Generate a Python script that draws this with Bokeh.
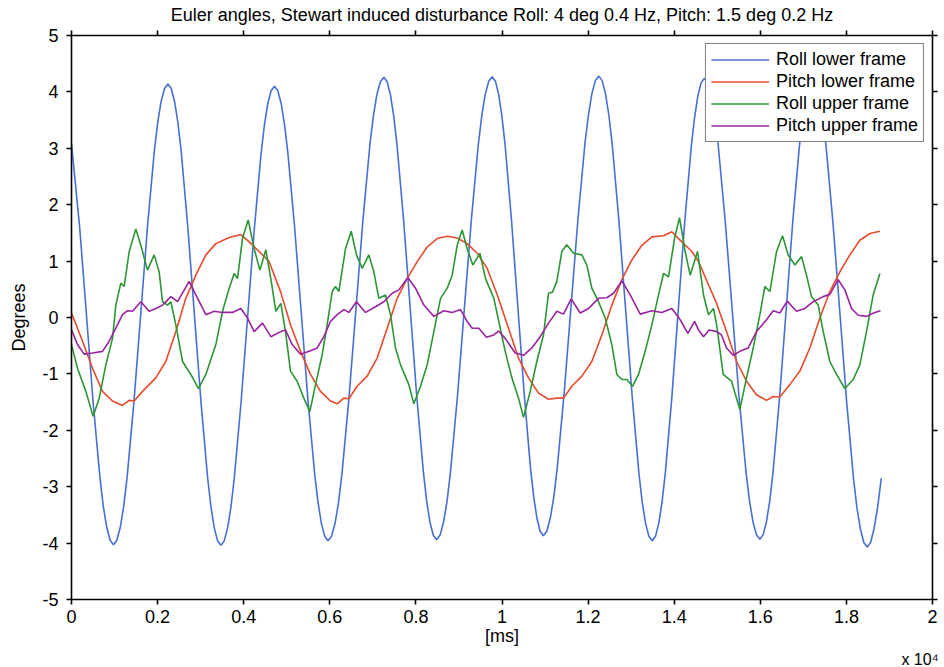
from bokeh.plotting import figure
from bokeh.models import Range1d, FixedTicker, LinearAxis, Legend, LegendItem, Title
from bokeh.embed import file_html
from bokeh.resources import INLINE

TITLE = "Euler angles, Stewart induced disturbance Roll: 4 deg 0.4 Hz, Pitch: 1.5 deg 0.2 Hz"
SERIES = ["Roll lower frame", "Pitch lower frame", "Roll upper frame", "Pitch upper frame"]

# time in ms (axis shows units of 10^4 ms)
x_ticks = [0, 2000, 4000, 6000, 8000, 10000, 12000, 14000, 16000, 18000, 20000]
x_tick_labels = ["0", "0.2", "0.4", "0.6", "0.8", "1", "1.2", "1.4", "1.6", "1.8", "2"]
y_ticks = [-5, -4, -3, -2, -1, 0, 1, 2, 3, 4, 5]

# Roll lower frame: (ms, deg) points
roll_lower = [
    (0, 3.08), (191, 1.59), (348, 0.04), (504, -1.52), (661, -2.84), (739, -3.35), (818, -3.72),
    (897, -3.95), (975, -4.03), (1054, -3.95), (1133, -3.72), (1212, -3.35), (1291, -2.84),
    (1449, -1.51), (1608, 0.06), (1766, 1.62), (1924, 2.95),
    (2003, 3.46), (2082, 3.83), (2161, 4.06), (2240, 4.14), (2317, 4.06), (2394, 3.83), (2471, 3.46),
    (2548, 2.95), (2701, 1.61), (2855, 0.05), (3009, -1.51), (3163, -2.85),
    (3240, -3.36), (3316, -3.73), (3393, -3.96), (3470, -4.04), (3548, -3.96), (3626, -3.73),
    (3704, -3.36), (3781, -2.85), (3937, -1.52), (4093, 0.03), (4248, 1.58), (4404, 2.91),
    (4482, 3.42), (4559, 3.79), (4637, 4.02), (4715, 4.10), (4793, 4.02), (4871, 3.79), (4949, 3.42),
    (5026, 2.92), (5182, 1.61), (5338, 0.07), (5493, -1.47), (5649, -2.78),
    (5727, -3.28), (5804, -3.65), (5882, -3.88), (5960, -3.96), (6041, -3.88), (6122, -3.65),
    (6203, -3.28), (6284, -2.76), (6446, -1.42), (6608, 0.15), (6769, 1.72), (6931, 3.06),
    (7012, 3.57), (7093, 3.95), (7174, 4.18), (7255, 4.26), (7332, 4.18), (7408, 3.95), (7485, 3.57),
    (7561, 3.06), (7714, 1.73), (7868, 0.16), (8021, -1.41), (8174, -2.74),
    (8251, -3.26), (8327, -3.63), (8404, -3.86), (8480, -3.94), (8561, -3.86), (8642, -3.63),
    (8723, -3.26), (8803, -2.74), (8965, -1.40), (9127, 0.17), (9288, 1.73), (9450, 3.07),
    (9531, 3.58), (9611, 3.96), (9692, 4.19), (9773, 4.27), (9847, 4.19), (9921, 3.96), (9996, 3.58),
    (10070, 3.08), (10218, 1.75), (10367, 0.20), (10515, -1.35), (10663, -2.68),
    (10738, -3.19), (10812, -3.56), (10886, -3.79), (10960, -3.87), (11041, -3.79), (11121, -3.56),
    (11202, -3.19), (11282, -2.68), (11443, -1.35), (11605, 0.21), (11766, 1.76), (11927, 3.09),
    (12008, 3.59), (12088, 3.97), (12169, 4.20), (12249, 4.28), (12327, 4.20), (12404, 3.97),
    (12482, 3.59), (12559, 3.08), (12714, 1.73), (12870, 0.16), (13025, -1.41), (13180, -2.76),
    (13258, -3.28), (13335, -3.65), (13413, -3.88), (13490, -3.96), (13566, -3.88), (13641, -3.65),
    (13717, -3.28), (13793, -2.76), (13944, -1.43), (14095, 0.14), (14246, 1.71), (14398, 3.04),
    (14474, 3.55), (14549, 3.93), (14625, 4.16), (14700, 4.24), (14781, 4.16), (14861, 3.93),
    (14942, 3.55), (15023, 3.05), (15184, 1.72), (15345, 0.16), (15506, -1.41), (15668, -2.74),
    (15749, -3.25), (15829, -3.62), (15910, -3.85), (15990, -3.93), (16067, -3.85), (16143, -3.62),
    (16220, -3.25), (16296, -2.74), (16449, -1.41), (16602, 0.15), (16754, 1.70), (16907, 3.03),
    (16984, 3.53), (17060, 3.91), (17137, 4.14), (17213, 4.22), (17293, 4.14), (17372, 3.91),
    (17452, 3.53), (17531, 3.01), (17690, 1.66), (17849, 0.08), (18007, -1.51), (18166, -2.86),
    (18246, -3.38), (18325, -3.75), (18405, -3.99), (18484, -4.07), (18562, -3.99), (18640, -3.75),
    (18725, -3.37), (18810, -2.85)]
roll_lower_x = [pt[0] for pt in roll_lower]
roll_lower_y = [pt[1] for pt in roll_lower]

pitch_lower_x = [0, 256, 488, 720, 952, 1185, 1340, 1456, 1649, 1959, 2191, 2424, 2656, 2888, 3121,
                 3353, 3663, 3934, 4127, 4359, 4591, 4860, 5087, 5320, 5552, 5784, 6016, 6171, 6326,
                 6442, 6636, 6868, 7100, 7333, 7565, 7797, 8030, 8262, 8494, 8727, 8959, 9191, 9424,
                 9656, 9900, 10151, 10384, 10616, 10848, 11080, 11274, 11429, 11622, 11855, 12087,
                 12319, 12552, 12784, 13016, 13249, 13481, 13752, 13945, 14178, 14410, 14565, 14797,
                 14985, 15215, 15448, 15680, 15912, 16144, 16299, 16454, 16687, 16919, 17151, 17383,
                 17616, 17848, 18080, 18312, 18545, 18777]
pitch_lower_y = [0.08, -0.42, -0.90, -1.31, -1.48, -1.56, -1.47, -1.48, -1.31, -1.07, -0.78, -0.25,
                 0.34, 0.75, 1.11, 1.31, 1.42, 1.47, 1.34, 1.17, 0.99, 0.45, -0.13, -0.60, -1.01,
                 -1.31, -1.48, -1.53, -1.43, -1.44, -1.22, -1.04, -0.72, -0.19, 0.34, 0.69, 0.99,
                 1.25, 1.40, 1.44, 1.41, 1.31, 1.14, 0.87, 0.38, -0.19, -0.72, -1.07, -1.34, -1.45,
                 -1.43, -1.43, -1.22, -1.04, -0.78, -0.31, 0.22, 0.67, 1.02, 1.28, 1.43, 1.45, 1.52,
                 1.34, 1.17, 0.99, 0.58, 0.25, -0.25, -0.78, -1.13, -1.37, -1.47, -1.40, -1.41,
                 -1.19, -0.95, -0.54, -0.01, 0.46, 0.81, 1.11, 1.37, 1.49, 1.53]

roll_upper_x = [0, 139, 333, 503, 643, 798, 953, 1030, 1146, 1224, 1340, 1494, 1611, 1765, 1920,
                2036, 2114, 2230, 2308, 2424, 2579, 2772, 2950, 3121, 3353, 3508, 3663, 3779, 3856,
                3972, 4104, 4243, 4375, 4514, 4630, 4747, 4863, 4971, 5087, 5242, 5397, 5536, 5668,
                5823, 5939, 6055, 6133, 6210, 6365, 6497, 6620, 6752, 6907, 7023, 7139, 7294, 7410,
                7526, 7643, 7836, 7952, 8107, 8262, 8417, 8572, 8727, 8843, 8959, 9075, 9191, 9323,
                9486, 9617, 9811, 9920, 10074, 10229, 10384, 10500, 10655, 10809, 10964, 11080,
                11173, 11274, 11390, 11506, 11661, 11855, 11971, 12087, 12242, 12397, 12552, 12668,
                12784, 12900, 13032, 13171, 13326, 13481, 13636, 13752, 13868, 14007, 14123, 14255,
                14371, 14542, 14681, 14797, 14913, 14990, 15138, 15331, 15525, 15680, 15835, 15990,
                16106, 16222, 16377, 16516, 16648, 16803, 16958, 17074, 17190, 17345, 17461, 17616,
                17771, 17964, 18158, 18312, 18467, 18622, 18777]
roll_upper_y = [-0.48, -0.90, -1.31, -1.75, -1.43, -0.84, -0.37, 0.22, 0.61, 0.55, 1.17, 1.57, 1.28,
                0.84, 1.11, 0.81, 0.28, 0.22, 0.28, -0.13, -0.78, -1.01, -1.26, -1.01, -0.48, 0.11,
                0.52, 0.78, 0.69, 1.40, 1.73, 1.22, 0.84, 1.20, 0.69, 0.11, 0.25, -0.25, -0.95,
                -1.13, -1.43, -1.67, -1.19, -0.66, -0.13, 0.46, 0.55, 0.46, 1.22, 1.53, 1.11, 0.87,
                1.11, 0.81, 0.34, 0.40, 0.05, -0.54, -0.84, -1.19, -1.53, -1.22, -0.84, -0.25, 0.34,
                0.52, 0.75, 1.28, 1.55, 1.22, 0.93, 1.14, 0.69, 0.34, -0.05, -0.60, -1.07, -1.43,
                -1.77, -1.31, -0.78, -0.31, 0.43, 0.45, 0.64, 1.17, 1.29, 1.14, 1.11, 0.93, 0.52,
                0.28, -0.01, -0.48, -1.01, -1.10, -1.10, -1.22, -1.01, -0.60, -0.13, 0.40, 0.78,
                0.72, 1.40, 1.77, 1.17, 0.75, 1.17, 0.40, 0.05, 0.16, -0.15, -1.01, -1.13, -1.63,
                -1.07, -0.54, 0.05, 0.55, 0.46, 1.17, 1.45, 1.11, 0.93, 1.08, 0.75, 0.37, 0.22,
                -0.25, -0.78, -1.01, -1.26, -1.10, -0.84, -0.25, 0.40, 0.78]

pitch_upper_x = [0, 139, 294, 488, 720, 875, 1030, 1185, 1301, 1417, 1611, 1804, 1959, 2114, 2308,
                 2463, 2733, 2888, 3121, 3314, 3508, 3740, 3934, 4089, 4243, 4437, 4630, 4860, 4971,
                 5126, 5320, 5552, 5707, 5862, 6016, 6171, 6326, 6442, 6620, 6829, 7062, 7255, 7449,
                 7604, 7813, 7991, 8185, 8417, 8649, 8843, 9036, 9191, 9307, 9462, 9640, 9811, 9920,
                 10074, 10306, 10500, 10694, 10887, 11080, 11274, 11429, 11607, 11816, 12010, 12242,
                 12436, 12590, 12784, 12978, 13210, 13481, 13713, 13945, 14139, 14317, 14472, 14565,
                 14681, 14813, 14990, 15099, 15215, 15370, 15525, 15719, 15912, 16144, 16299, 16454,
                 16625, 16841, 17035, 17229, 17461, 17616, 17810, 17964, 18119, 18274, 18467, 18661,
                 18793]
pitch_upper_y = [-0.22, -0.48, -0.65, -0.63, -0.60, -0.42, -0.19, 0.05, 0.12, 0.11, 0.28, 0.11, 0.16,
                 0.22, 0.37, 0.28, 0.64, 0.40, 0.05, 0.11, 0.09, 0.09, 0.16, -0.01, -0.25, -0.10,
                 -0.34, -0.25, -0.22, -0.48, -0.65, -0.59, -0.54, -0.34, -0.07, 0.05, 0.14, 0.09,
                 0.28, 0.09, 0.19, 0.28, 0.43, 0.49, 0.71, 0.52, 0.22, 0.02, 0.12, 0.09, 0.14, -0.07,
                 -0.19, -0.19, -0.35, -0.31, -0.24, -0.37, -0.63, -0.67, -0.54, -0.34, -0.10, 0.11,
                 0.06, 0.33, 0.08, 0.16, 0.34, 0.35, 0.43, 0.65, 0.40, 0.06, 0.12, 0.09, 0.16, -0.04,
                 -0.28, -0.07, -0.22, -0.34, -0.22, -0.25, -0.31, -0.54, -0.67, -0.60, -0.54, -0.25,
                 -0.04, 0.12, 0.08, 0.29, 0.11, 0.16, 0.28, 0.37, 0.41, 0.67, 0.49, 0.16, 0.04, 0.02,
                 0.09, 0.12]

COLORS = ["#486FD6", "#E84A2C", "#2C9634", "#9B23A0"]
FONT = "Liberation Sans"

p = figure(width=944, height=667, x_range=Range1d(0, 20000), y_range=Range1d(-5, 5),
           output_backend="svg", toolbar_location=None,
           min_border_left=71, min_border_right=12, min_border_top=35, min_border_bottom=66)
p.grid.visible = False
p.outline_line_color = None
p.background_fill_color = "white"
p.border_fill_color = "white"

xaxis = p.below[0]
yaxis = p.left[0]
top_axis = LinearAxis()
right_axis = LinearAxis()
p.add_layout(top_axis, "above")
p.add_layout(right_axis, "right")


def style(ax, ticks, labels=None, show_labels=True):
    ax.ticker = FixedTicker(ticks=ticks)
    ax.axis_line_color = "black"
    ax.axis_line_width = 1.6
    ax.major_tick_line_color = "black"
    ax.major_tick_line_width = 1.6
    ax.major_tick_in = 0
    ax.major_tick_out = 5
    ax.minor_tick_line_color = None
    ax.major_label_text_font = FONT
    ax.major_label_text_color = "black"
    ax.axis_label_text_font = FONT
    ax.axis_label_text_font_style = "normal"
    ax.axis_label_text_font_size = "18px"
    ax.axis_label_text_color = "black"
    if show_labels:
        ax.major_label_text_font_size = "18px"
        if labels is not None:
            ax.major_label_overrides = {t: l for t, l in zip(ticks, labels)}
    else:
        ax.major_label_text_font_size = "0px"
        ax.major_label_overrides = {t: "" for t in ticks}
        ax.major_label_standoff = 0


style(xaxis, x_ticks, x_tick_labels)
style(yaxis, y_ticks, [str(v) for v in y_ticks])
style(top_axis, x_ticks, show_labels=False)
style(right_axis, y_ticks, show_labels=False)

xaxis.axis_label = "[ms]"
xaxis.major_label_standoff = 5
xaxis.axis_label_standoff = 0
yaxis.axis_label = "Degrees"
yaxis.major_label_standoff = 8
yaxis.axis_label_standoff = 10
top_axis.axis_label = TITLE
top_axis.axis_label_standoff = 6

p.add_layout(Title(text="x 10\u2074", align="right", text_font=FONT, text_font_size="16px",
                   text_font_style="normal", text_color="black", standoff=0, offset=-6), "below")

data = [(roll_lower_x, roll_lower_y), (pitch_lower_x, pitch_lower_y),
        (roll_upper_x, roll_upper_y), (pitch_upper_x, pitch_upper_y)]
renderers = []
for (xs, ys), c in zip(data, COLORS):
    n = min(len(xs), len(ys))
    r = p.line(xs[:n], ys[:n], line_color=c, line_width=1.6)
    renderers.append(r)

legend = Legend(items=[LegendItem(label=s, renderers=[r]) for s, r in zip(SERIES, renderers)],
                location="top_right")
legend.margin = 8
legend.padding = 5
legend.spacing = 1
legend.label_height = 21
legend.glyph_height = 21
legend.glyph_width = 58
legend.label_standoff = 7
legend.label_text_font = FONT
legend.label_text_font_size = "18px"
legend.label_text_color = "black"
legend.border_line_color = "black"
legend.border_line_width = 1.6
legend.background_fill_color = "white"
legend.background_fill_alpha = 1.0
p.add_layout(legend)

open("out.html", "w").write(file_html(p, INLINE))
